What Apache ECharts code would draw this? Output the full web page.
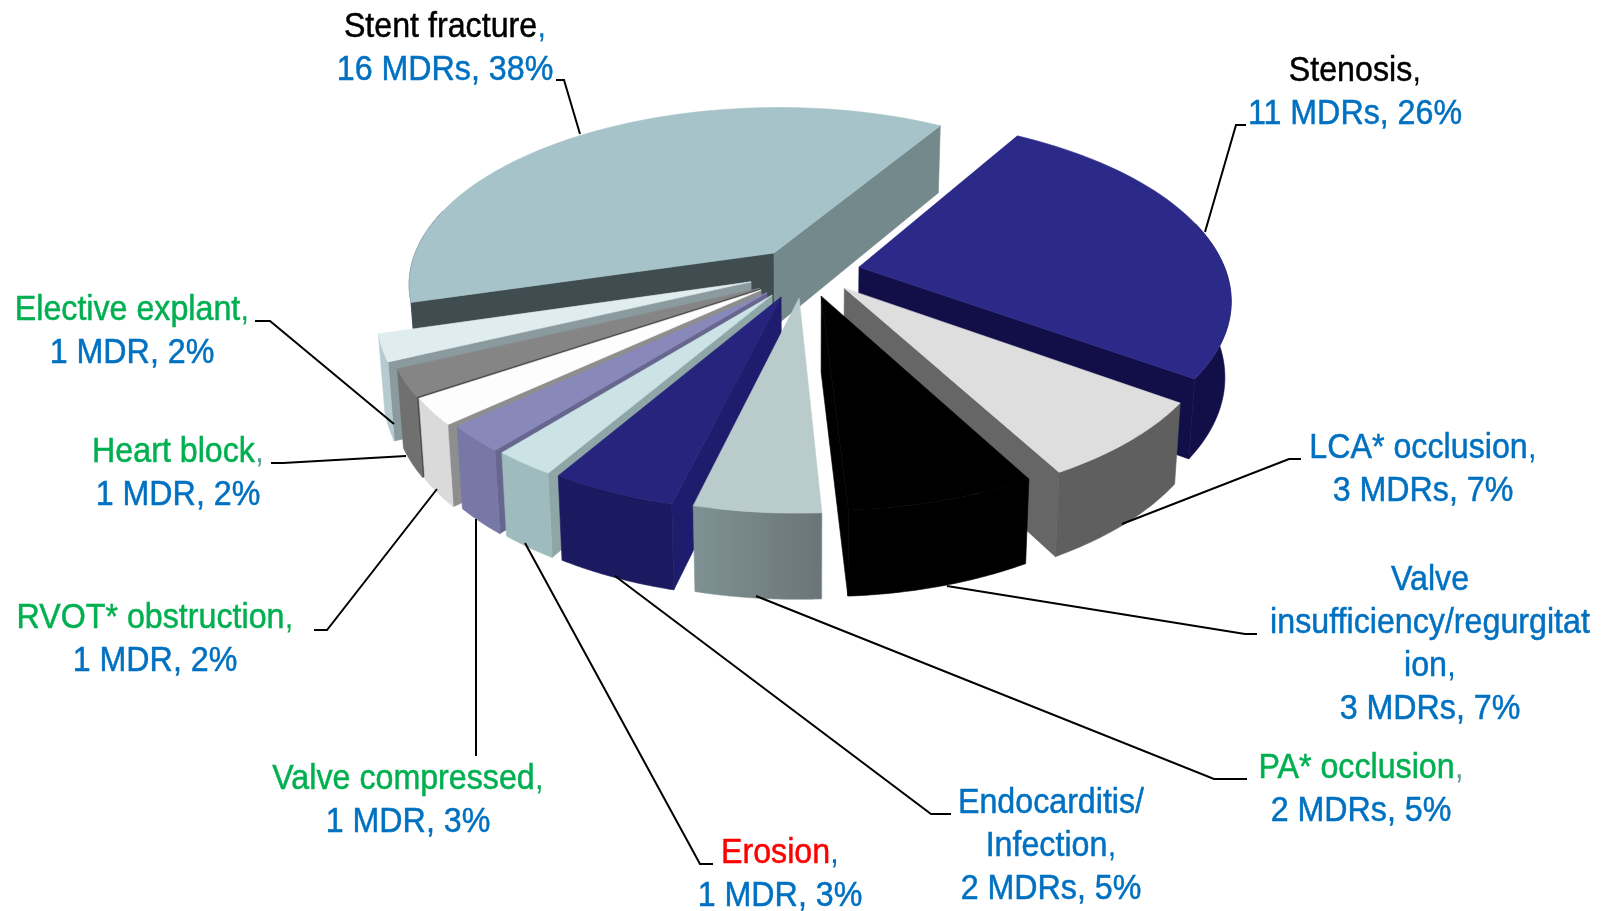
<!DOCTYPE html>
<html>
<head>
<meta charset="utf-8">
<title>MDR pie</title>
<style>
html,body{margin:0;padding:0;background:#fff;}
#main{width:1613px;height:911px;}
</style>
<script src="https://cdn.jsdelivr.net/npm/echarts@6/dist/echarts.min.js"></script>
</head>
<body>
<div id="main"></div>
<script>
// data, clockwise from the stenosis slice
var names = ['Stenosis','LCA* occlusion','Valve\ninsufficiency/regurgitat\nion','PA* occlusion','Endocarditis/\nInfection','Erosion','Valve compressed','RVOT* obstruction','Heart block','Elective explant','Stent fracture'];
var mdrs = [11,3,3,2,2,1,1,1,1,1,16];
var pct = [26,7,7,5,5,3,3,2,2,2,38];
var nameColors = ['#000000','#0070C0','#0070C0','#00B050','#0070C0','#FF0000','#00B050','#00B050','#00B050','#00B050','#000000'];
var commaColors = ['#000000','#0070C0','#0070C0','#5F9EA0','#0070C0','#0070C0','#00B050','#00B050','#5F9EA0','#00B050','#0070C0'];

// slice colours
var topColors = ['#2C2A88','#DEDEDE','#000000','#BACBCC','#26247C','#CBE3E5','#8888BA','#FDFDFD','#858585','#E0EDEF','#A5C3C8'];
var startWall = ['#120F48','#666666','#000000','#7B8E8F','#1E1C6C','#8FA6A6','#66668F','#8E8E8E','#4D4D4D','#8A9A9E','#3F4D50'];
var endWall = ['#120F48','#666666','#000000','#7B8E8F','#1E1C6C','#8FA6A6','#66668F','#8E8E8E','#4D4D4D','#8A9A9E','#74898B'];
var arcFrom = ['#120F48','#5F5F5F','#000000','#7F9293','#1B1960','#A0BBBE','#7878A6','#DADADA','#707070','#B5CBD0','#3F4D50'];
var arcTo = ['#120F48','#5F5F5F','#000000','#6A7576','#1B1960','#A0BBBE','#7878A6','#DADADA','#707070','#B5CBD0','#3F4D50'];

// projection of the tilted pie
var cx = 810, cy = 280, unit = 370;
var k = 0.485, p = 0.17;
var startAngle = 31;
var wallHeight = 75, taper = 0.985;
// where each slice tip sits on the ground plane, and its radius
var tipU = [0.134,0.092,0.030,-0.029,-0.077,-0.101,-0.115,-0.131,-0.134,-0.159,-0.100];
var tipV = [-0.073,0.045,0.089,0.099,0.093,0.083,0.070,0.055,0.045,0.010,-0.154];
var radius = [1.0,0.985,0.965,0.965,0.965,0.965,0.97,0.98,0.985,0.99,0.995];

// label placement and leader lines
var labelPos = [[1355,93],[1423,470],[1430,645],[1361,790],[1051,846],[780,875],[408,801],[155,640],[178,474],[132,332],[445,49]];
var leaders = [
	[[1246,125],[1236,125],[1205,232]],
	[[1301,459],[1289,459],[1122,524]],
	[[1257,634],[1245,634],[947,586]],
	[[1247,779],[1214,779],[756,596]],
	[[951,814],[931,814],[615,576]],
	[[713,864],[700,864],[525,543]],
	[[476,756],[476,519]],
	[[314,630],[327,630],[437,489]],
	[[271,463],[283,463],[406,456]],
	[[255,321],[270,321],[394,424]],
	[[556,80],[564,80],[580,134]]
];

var total = mdrs.reduce(function(a,b){return a+b;},0);
var angles = [];
var acc = startAngle;
for(var i=0;i<mdrs.length;i++){
	var a0 = acc;
	acc += mdrs[i]/total*360;
	angles.push([a0,acc]);
}

function project(u,v){
	var g = 1/(1-p*v);
	return [cx+unit*u*g, cy+unit*k*v*g, g];
}
function rim(i,deg){
	var t = deg*Math.PI/180;
	return project(tipU[i]+radius[i]*Math.sin(t), tipV[i]-radius[i]*Math.cos(t));
}
function down(pt){
	return [cx+(pt[0]-cx)*taper, pt[1]+wallHeight*Math.pow(pt[2],0.7)];
}
function area(pts){
	var s = 0;
	for(var j=0;j<pts.length;j++){
		var q = pts[(j+1)%pts.length];
		s += pts[j][0]*q[1]-q[0]*pts[j][1];
	}
	return s;
}
function poly(pts,fill,stroke){
	return {type:'polygon',shape:{points:pts},style:{fill:fill,stroke:stroke||fill,lineWidth:0.6}};
}

function renderSlice(params,api){
	var i = api.value(0);
	var a0 = angles[i][0], a1 = angles[i][1];
	var tip = project(tipU[i],tipV[i]);
	var first = rim(i,a0), last = rim(i,a1);
	var children = [];

	// radial walls, only the ones that face the viewer
	var w0 = [tip,first,down(first),down(tip)].map(function(d){return [d[0],d[1]];});
	if(area(w0)<0) children.push(poly(w0,startWall[i]));
	var w1 = [last,tip,down(tip),down(last)].map(function(d){return [d[0],d[1]];});
	if(area(w1)<0) children.push(poly(w1,endWall[i]));

	// outer wall, a bit past the sides so the silhouette closes
	var from = Math.max(a0,75), to = Math.min(a1,285);
	if(to>from){
		var upper = [], lower = [];
		for(var s=0;s<=40;s++){
			var r = rim(i,from+(to-from)*s/40);
			upper.push([r[0],r[1]]);
			lower.unshift(down(r));
		}
		children.push(poly(upper.concat(lower),new echarts.graphic.LinearGradient(0,0,1,0,[
			{offset:0,color:arcFrom[i]},{offset:1,color:arcTo[i]}
		]),arcFrom[i]));
	}

	// top face
	var face = [[tip[0],tip[1]]];
	for(var s2=0;s2<=60;s2++){
		var r2 = rim(i,a0+(a1-a0)*s2/60);
		face.push([r2[0],r2[1]]);
	}
	children.push(poly(face,topColors[i]));
	return {type:'group',children:children};
}

// back slices first
var order = names.map(function(n,i){return i;});
function depth(i){
	return -Math.cos((angles[i][0]+angles[i][1])/2*Math.PI/180);
}
order.sort(function(a,b){return depth(a)-depth(b);});

var labelFont = '35px "Liberation Sans"';
var graphics = [];
for(var n=0;n<names.length;n++){
	graphics.push({
		type:'polyline',
		shape:{points:leaders[n]},
		style:{stroke:'#000',lineWidth:2,fill:null},
		z:10
	});
	graphics.push({
		type:'text',
		x:labelPos[n][0],
		y:labelPos[n][1],
		scaleX:0.92,
		z:11,
		style:{
			text:'{n|'+names[n].split('\n').join('}\n{n|')+'}{c|,}\n{d|'+mdrs[n]+(mdrs[n]==1?' MDR, ':' MDRs, ')+pct[n]+'%}',
			align:'center',
			verticalAlign:'middle',
			rich:{
				n:{fill:nameColors[n],stroke:nameColors[n],lineWidth:0.5,font:labelFont,lineHeight:43,align:'center'},
				c:{fill:commaColors[n],font:labelFont,lineHeight:43},
				d:{fill:'#0070C0',stroke:'#0070C0',lineWidth:0.5,font:labelFont,lineHeight:43,align:'center'}
			}
		}
	});
}

var myChart = echarts.init(document.getElementById('main'));
myChart.setOption({
	animation:false,
	backgroundColor:'#fff',
	graphic:graphics,
	series:[{
		type:'custom',
		coordinateSystem:'none',
		renderItem:renderSlice,
		silent:true,
		data:order.map(function(i){return [i];})
	}]
});
</script>
</body>
</html>
